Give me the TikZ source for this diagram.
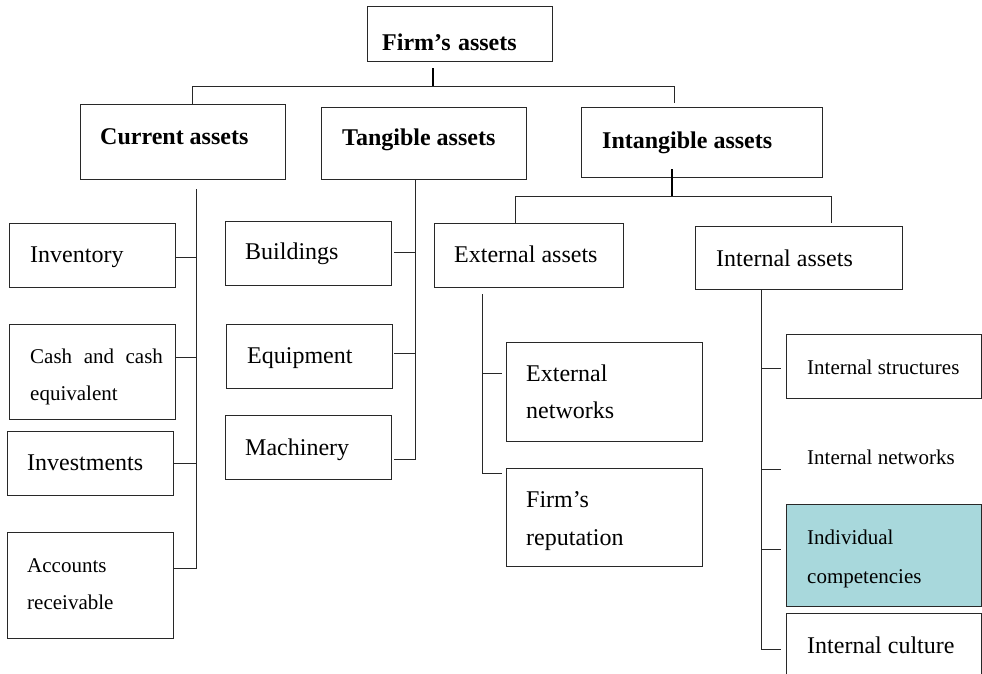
\documentclass[tikz,border=0pt]{standalone}
\usepackage{fontspec}
\setmainfont{Liberation Serif}
\usetikzlibrary{calc}

\definecolor{inkline}{RGB}{40,40,40}
\definecolor{compfill}{RGB}{168,216,220}

\tikzset{
  box/.style={draw=inkline, line width=1.2pt, inner sep=0pt, anchor=north west},
  head/.style={anchor=mid west, inner sep=0pt, yshift=-5pt, font=\fontsize{24}{28}\selectfont\bfseries},
  big/.style={anchor=mid west, inner sep=0pt, yshift=-5pt, font=\fontsize{24}{28}\selectfont},
  small/.style={anchor=mid west, inner sep=0pt, yshift=-4pt, font=\fontsize{21}{25}\selectfont},
  link/.style={draw=inkline, line width=1pt},
  stem/.style={draw=black, line width=2pt},
}

\begin{document}
\begin{tikzpicture}[x=1pt, y=-1pt]
\useasboundingbox (0,0) rectangle (982,673);
\clip (0,0) rectangle (982,673);

% ---- boxes (top-left corner, width, height) ----
\node[box, minimum width=185pt, minimum height=55pt]  (firm)   at (367,6)   {};
\node[box, minimum width=205pt, minimum height=75pt]  (cur)    at (80,104)  {};
\node[box, minimum width=205pt, minimum height=72pt]  (tan)    at (321,107) {};
\node[box, minimum width=241pt, minimum height=70pt]  (intg)   at (581,107) {};

\node[box, minimum width=166pt, minimum height=64pt]  (inv)    at (9,223)   {};
\node[box, minimum width=166pt, minimum height=95pt]  (cash)   at (9,324)   {};
\node[box, minimum width=166pt, minimum height=64pt]  (invst)  at (7,431)   {};
\node[box, minimum width=166pt, minimum height=106pt] (acc)    at (7,532)   {};

\node[box, minimum width=166pt, minimum height=64pt]  (bld)    at (225,221) {};
\node[box, minimum width=166pt, minimum height=64pt]  (eqp)    at (226,324) {};
\node[box, minimum width=166pt, minimum height=64pt]  (mach)   at (225,415) {};

\node[box, minimum width=189pt, minimum height=64pt]  (ext)    at (434,223) {};
\node[box, minimum width=207pt, minimum height=63pt]  (intl)   at (695,226) {};

\node[box, minimum width=196pt, minimum height=99pt]  (extnet) at (506,342) {};
\node[box, minimum width=196pt, minimum height=98pt]  (rep)    at (506,468) {};

\node[box, minimum width=195pt, minimum height=64pt]  (istr)   at (786,334) {};
\node[box, fill=compfill, minimum width=195pt, minimum height=102pt] (indiv) at (786,504) {};
\node[box, minimum width=195pt, minimum height=80pt]  (cult)   at (786,613) {};

% ---- labels ----
\node[head] (firm-l) at (382,43)  {Firm’s\hspace{0.06em} assets};
\node[head] (cur-l)  at (100,137) {Current assets};
\node[head] (tan-l)  at (342,138) {Tangible assets};
\node[head] (intg-l) at (602,141) {Intangible assets};

\node[big]   (inv-l)   at (30,255)  {Inventory};
\node[small] (cash-l1) at (30,357)  {Cash\hspace{0.55em}and\hspace{0.55em}cash};
\node[small] (cash-l2) at (30,394)  {equivalent};
\node[big]   (invst-l) at (27,463)  {Investments};
\node[small] (acc-l1)  at (27,566)  {Accounts};
\node[small] (acc-l2)  at (27,603)  {receivable};

\node[big] (bld-l)  at (245,252) {Buildings};
\node[big] (eqp-l)  at (247,356) {Equipment};
\node[big] (mach-l) at (245,448) {Machinery};

\node[big] (ext-l)  at (454,255) {External assets};
\node[big] (intl-l) at (716,259) {Internal assets};

\node[big] (extnet-l1) at (526,374) {External};
\node[big] (extnet-l2) at (526,411) {networks};
\node[big] (rep-l1)    at (526,500) {Firm’s};
\node[big] (rep-l2)    at (526,538) {reputation};

\node[small] (istr-l)   at (807,368) {Internal structures};
\node[small] (inet)     at (807,458) {Internal networks};
\node[small] (indiv-l1) at (807,538) {Individual};
\node[small] (indiv-l2) at (807,577) {competencies};
\node[big]   (cult-l)   at (807,646) {Internal culture};

% ---- top level connectors ----
\coordinate (firm-stem) at (433,68);
\coordinate (hubL) at (192,86);
\coordinate (hubR) at (674,86);
\draw[stem] (firm-stem) -- (firm-stem |- hubL);
\draw[link] (cur.north -| hubL) -- (hubL) -- (hubR) -- ($(intg.north -| hubR)+(0,-4)$);

% ---- current assets spine ----
\coordinate (cs-top) at (196,189);
\coordinate (cs-inv) at (196,257);
\coordinate (cs-cash) at (196,357);
\coordinate (cs-invst) at (196,463);
\coordinate (cs-acc) at (196,568);
\draw[link] (cs-top) -- (cs-acc) -- (cs-acc -| acc.east);
\draw[link] (cs-inv -| inv.east) -- (cs-inv);
\draw[link] (cs-cash -| cash.east) -- (cs-cash);
\draw[link] (cs-invst -| invst.east) -- (cs-invst);

% ---- tangible assets spine ----
\coordinate (ts-bld) at (415,252);
\coordinate (ts-eqp) at (415,353);
\coordinate (ts-mach) at (415,459);
\draw[link] (tan.south -| ts-mach) -- (ts-mach) -- ($(ts-mach -| mach.east)+(2,0)$);
\draw[link] ($(ts-bld -| bld.east)+(2,0)$) -- (ts-bld);
\draw[link] ($(ts-eqp -| eqp.east)+(1,0)$) -- (ts-eqp);

% ---- intangible assets split ----
\coordinate (ig-stem) at (672,169);
\coordinate (ig-hub) at (672,196);
\coordinate (igL) at (515,196);
\coordinate (igR) at (831,196);
\draw[stem] (ig-stem) -- (ig-hub);
\draw[link] (ext.north -| igL) -- (igL) -- (igR) -- ($(intl.north -| igR)+(0,-3)$);

% ---- external assets spine ----
\coordinate (es-top) at (482,294);
\coordinate (es-net) at (482,373);
\coordinate (es-rep) at (482,473);
\draw[link] (es-top) -- (es-rep) -- ($(es-rep -| rep.west)+(-4,0)$);
\draw[link] (es-net) -- ($(es-net -| extnet.west)+(-4,0)$);

% ---- internal assets spine ----
\coordinate (is-str) at (761,368);
\coordinate (is-net) at (761,469);
\coordinate (is-ind) at (761,549);
\coordinate (is-cul) at (761,649);
\draw[link] (intl.south -| is-cul) -- (is-cul) -- ($(is-cul -| cult.west)+(-5,0)$);
\draw[link] (is-str) -- ($(is-str -| istr.west)+(-5,0)$);
\draw[link] (is-net) -- ($(is-net -| inet.west)+(-26,0)$);
\draw[link] (is-ind) -- ($(is-ind -| indiv.west)+(-5,0)$);
\end{tikzpicture}
\end{document}
